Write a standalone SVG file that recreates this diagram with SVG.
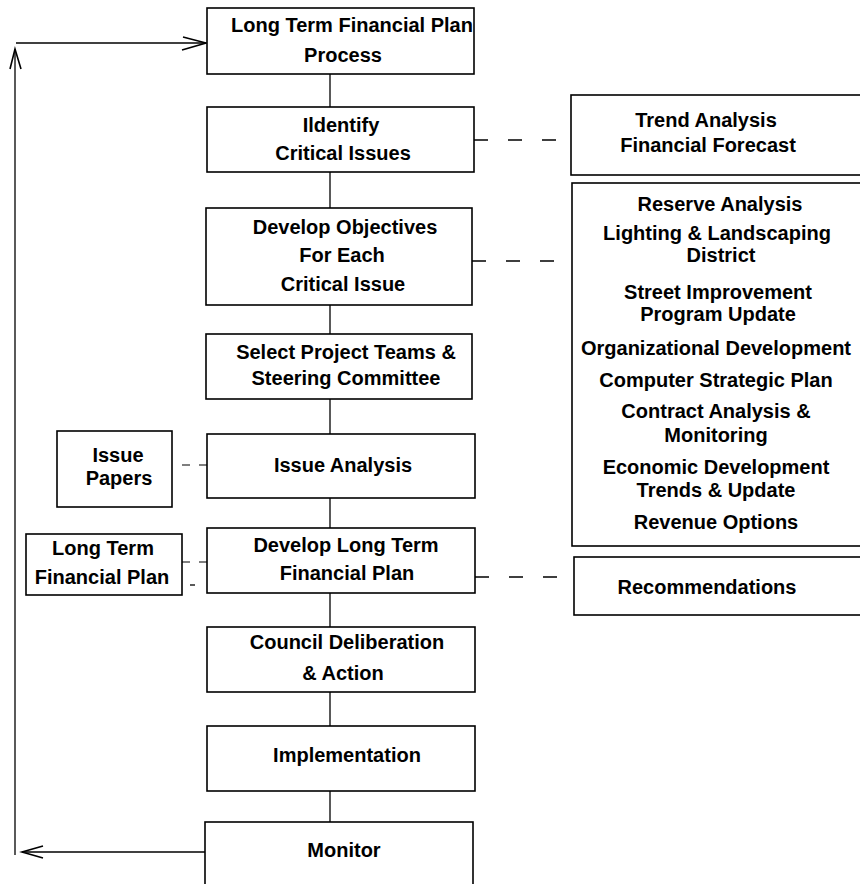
<svg xmlns="http://www.w3.org/2000/svg" width="860" height="884" viewBox="0 0 860 884">
<style>
.box{fill:#fff;stroke:#000;stroke-width:1.6}
.t{font-family:"Liberation Sans",Arial,sans-serif;font-weight:bold;font-size:20px;fill:#000;text-anchor:middle}
.ln{fill:none;stroke:#000;stroke-width:1.3}
.dr{fill:none;stroke:#000;stroke-width:1.4;stroke-dasharray:14 20}
.dl{fill:none;stroke:#000;stroke-width:1.2;stroke-dasharray:8 9}
.ah{fill:none;stroke:#000;stroke-width:1.6}
</style>
<rect width="860" height="884" fill="#fff"/>
<g id="connectors">
<line class="ln" x1="330" y1="74" x2="330" y2="107"/>
<line class="ln" x1="330" y1="172" x2="330" y2="208"/>
<line class="ln" x1="330" y1="305" x2="330" y2="334"/>
<line class="ln" x1="330" y1="399" x2="330" y2="434"/>
<line class="ln" x1="330" y1="498" x2="330" y2="528"/>
<line class="ln" x1="330" y1="593" x2="330" y2="627"/>
<line class="ln" x1="330" y1="692" x2="330" y2="726"/>
<line class="ln" x1="330" y1="791" x2="330" y2="822"/>
<line class="dr" x1="474" y1="140" x2="558" y2="140"/>
<line class="dr" x1="472" y1="261" x2="558" y2="261"/>
<line class="dr" x1="475" y1="577" x2="558" y2="577"/>
<line class="dl" x1="182" y1="465" x2="207" y2="465"/>
<line class="dl" x1="182" y1="562" x2="207" y2="562"/>
<line class="ln" x1="190" y1="585" x2="195" y2="585"/>
<line class="ln" x1="205" y1="852" x2="22" y2="852"/>
<path class="ah" d="M43,846 L22,852 L43,858"/>
<line class="ln" x1="15" y1="855" x2="15" y2="49"/>
<path class="ah" d="M10,69 L15,49 L21,69"/>
<line class="ln" x1="16" y1="43" x2="206" y2="43"/>
<path class="ah" d="M183,37 L206,43 L182,50"/>
</g>
<g id="n1"><rect class="box" x="207" y="8" width="267" height="66"/>
<text class="t" x="352" y="32">Long Term Financial Plan</text><text class="t" x="343" y="62">Process</text></g>
<g id="n2"><rect class="box" x="207" y="107" width="267" height="65"/>
<text class="t" x="341" y="132">Ildentify</text><text class="t" x="343" y="160">Critical Issues</text></g>
<g id="n3"><rect class="box" x="206" y="208" width="266" height="97"/>
<text class="t" x="345" y="234">Develop Objectives</text><text class="t" x="342" y="262">For Each</text><text class="t" x="343" y="291">Critical Issue</text></g>
<g id="n4"><rect class="box" x="206" y="334" width="266" height="65"/>
<text class="t" x="346" y="359">Select Project Teams &amp;</text><text class="t" x="346" y="385">Steering Committee</text></g>
<g id="n5"><rect class="box" x="207" y="434" width="268" height="64"/>
<text class="t" x="343" y="472">Issue Analysis</text></g>
<g id="n6"><rect class="box" x="207" y="528" width="268" height="65"/>
<text class="t" x="346" y="552">Develop Long Term</text><text class="t" x="347" y="580">Financial Plan</text></g>
<g id="n7"><rect class="box" x="207" y="627" width="268" height="65"/>
<text class="t" x="347" y="649">Council Deliberation</text><text class="t" x="343" y="680">&amp; Action</text></g>
<g id="n8"><rect class="box" x="207" y="726" width="268" height="65"/>
<text class="t" x="347" y="762">Implementation</text></g>
<g id="n9"><rect class="box" x="205" y="822" width="268" height="80"/>
<text class="t" x="344" y="857">Monitor</text></g>
<g id="issue-papers"><rect class="box" x="57" y="431" width="115" height="76"/>
<text class="t" x="118" y="462">Issue</text><text class="t" x="119" y="485">Papers</text></g>
<g id="lt-plan"><rect class="box" x="26" y="534" width="156" height="61"/>
<text class="t" x="103" y="555">Long Term</text><text class="t" x="102" y="584">Financial Plan</text></g>
<g id="trend"><rect class="box" x="571" y="95" width="292" height="80"/>
<text class="t" x="706" y="127">Trend Analysis</text><text class="t" x="708" y="152">Financial Forecast</text></g>
<g id="list"><rect class="box" x="572" y="183" width="291" height="363"/>
<text class="t" x="720" y="211">Reserve Analysis</text>
<text class="t" x="717" y="240">Lighting &amp; Landscaping</text>
<text class="t" x="721" y="262">District</text>
<text class="t" x="718" y="299">Street Improvement</text>
<text class="t" x="718" y="321">Program Update</text>
<text class="t" x="716" y="355">Organizational Development</text>
<text class="t" x="716" y="387">Computer Strategic Plan</text>
<text class="t" x="716" y="418">Contract Analysis &amp;</text>
<text class="t" x="716" y="442">Monitoring</text>
<text class="t" x="716" y="474">Economic Development</text>
<text class="t" x="716" y="497">Trends &amp; Update</text>
<text class="t" x="716" y="529">Revenue Options</text></g>
<g id="recommendations"><rect class="box" x="574" y="557" width="289" height="58"/>
<text class="t" x="707" y="594">Recommendations</text></g>
</svg>
